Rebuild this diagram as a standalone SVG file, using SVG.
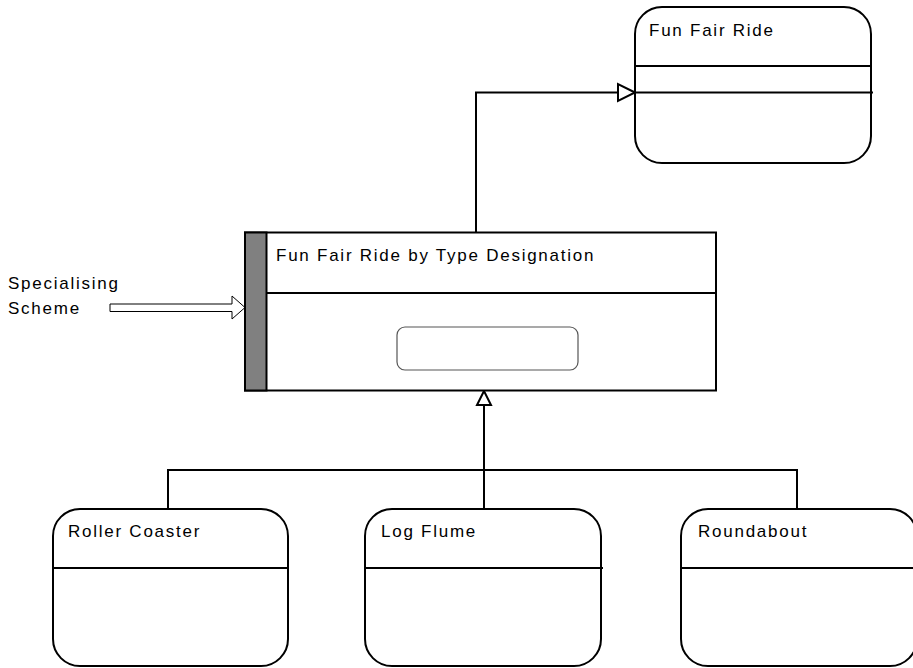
<svg xmlns="http://www.w3.org/2000/svg" width="913" height="668" viewBox="0 0 913 668">
<style>
.box{fill:#fff;stroke:#000;stroke-width:2}
.div{stroke:#000;stroke-width:2}
.lbl{font-family:"Liberation Sans",Arial,sans-serif;font-size:17px;letter-spacing:1.75px;fill:#000}
.con{fill:none;stroke:#000;stroke-width:2}
.head{fill:#fff;stroke:#000;stroke-width:2}
</style>
<rect width="913" height="668" fill="#fff"/>
<g id="connectors">
  <polyline class="con" points="476,232 476,92.5 619,92.5"/>
  <polygon class="head" points="635,92.5 618,84 618,101"/>
  <line class="con" x1="484" y1="406" x2="484" y2="509"/>
  <polyline class="con" points="168,509 168,470 797,470 797,509"/>
  <polygon class="head" points="484,391 477,405 491,405"/>
  <path d="M110,304 H232 V296 L245,307.5 L232,319 V311.5 H110 Z" fill="#fff" stroke="#000" stroke-width="1"/>
</g>
<g id="fun-fair-ride">
  <rect class="box" x="635" y="7" width="236" height="156" rx="27" ry="27"/>
  <line class="div" x1="635" y1="66" x2="871" y2="66"/>
  <line class="div" x1="635" y1="92.5" x2="873" y2="92.5"/>
  <text class="lbl" x="649" y="36">Fun Fair Ride</text>
</g>
<g id="specialising-scheme">
  <text class="lbl" x="8" y="289">Specialising</text>
  <text class="lbl" x="8" y="314">Scheme</text>
</g>
<g id="by-type">
  <rect class="box" x="245" y="232.5" width="471" height="158"/>
  <rect x="245" y="232.5" width="21.5" height="158" fill="#808080" stroke="#000" stroke-width="2"/>
  <line class="div" x1="266" y1="293" x2="716" y2="293"/>
  <text class="lbl" x="276" y="261">Fun Fair Ride by Type Designation</text>
  <rect x="397" y="327" width="181" height="43" rx="8" ry="8" fill="#fff" stroke="#555" stroke-width="1.2"/>
</g>
<g id="roller-coaster">
  <rect class="box" x="53" y="509" width="235" height="157" rx="27" ry="27"/>
  <line class="div" x1="53" y1="568" x2="288" y2="568"/>
  <text class="lbl" x="68" y="537">Roller Coaster</text>
</g>
<g id="log-flume">
  <rect class="box" x="365" y="509" width="236" height="157" rx="27" ry="27"/>
  <line class="div" x1="365" y1="568" x2="603" y2="568"/>
  <text class="lbl" x="381" y="537">Log Flume</text>
</g>
<g id="roundabout">
  <rect class="box" x="681" y="509" width="236" height="157" rx="27" ry="27"/>
  <line class="div" x1="681" y1="568" x2="913" y2="568"/>
  <text class="lbl" x="698" y="537">Roundabout</text>
</g>
</svg>
